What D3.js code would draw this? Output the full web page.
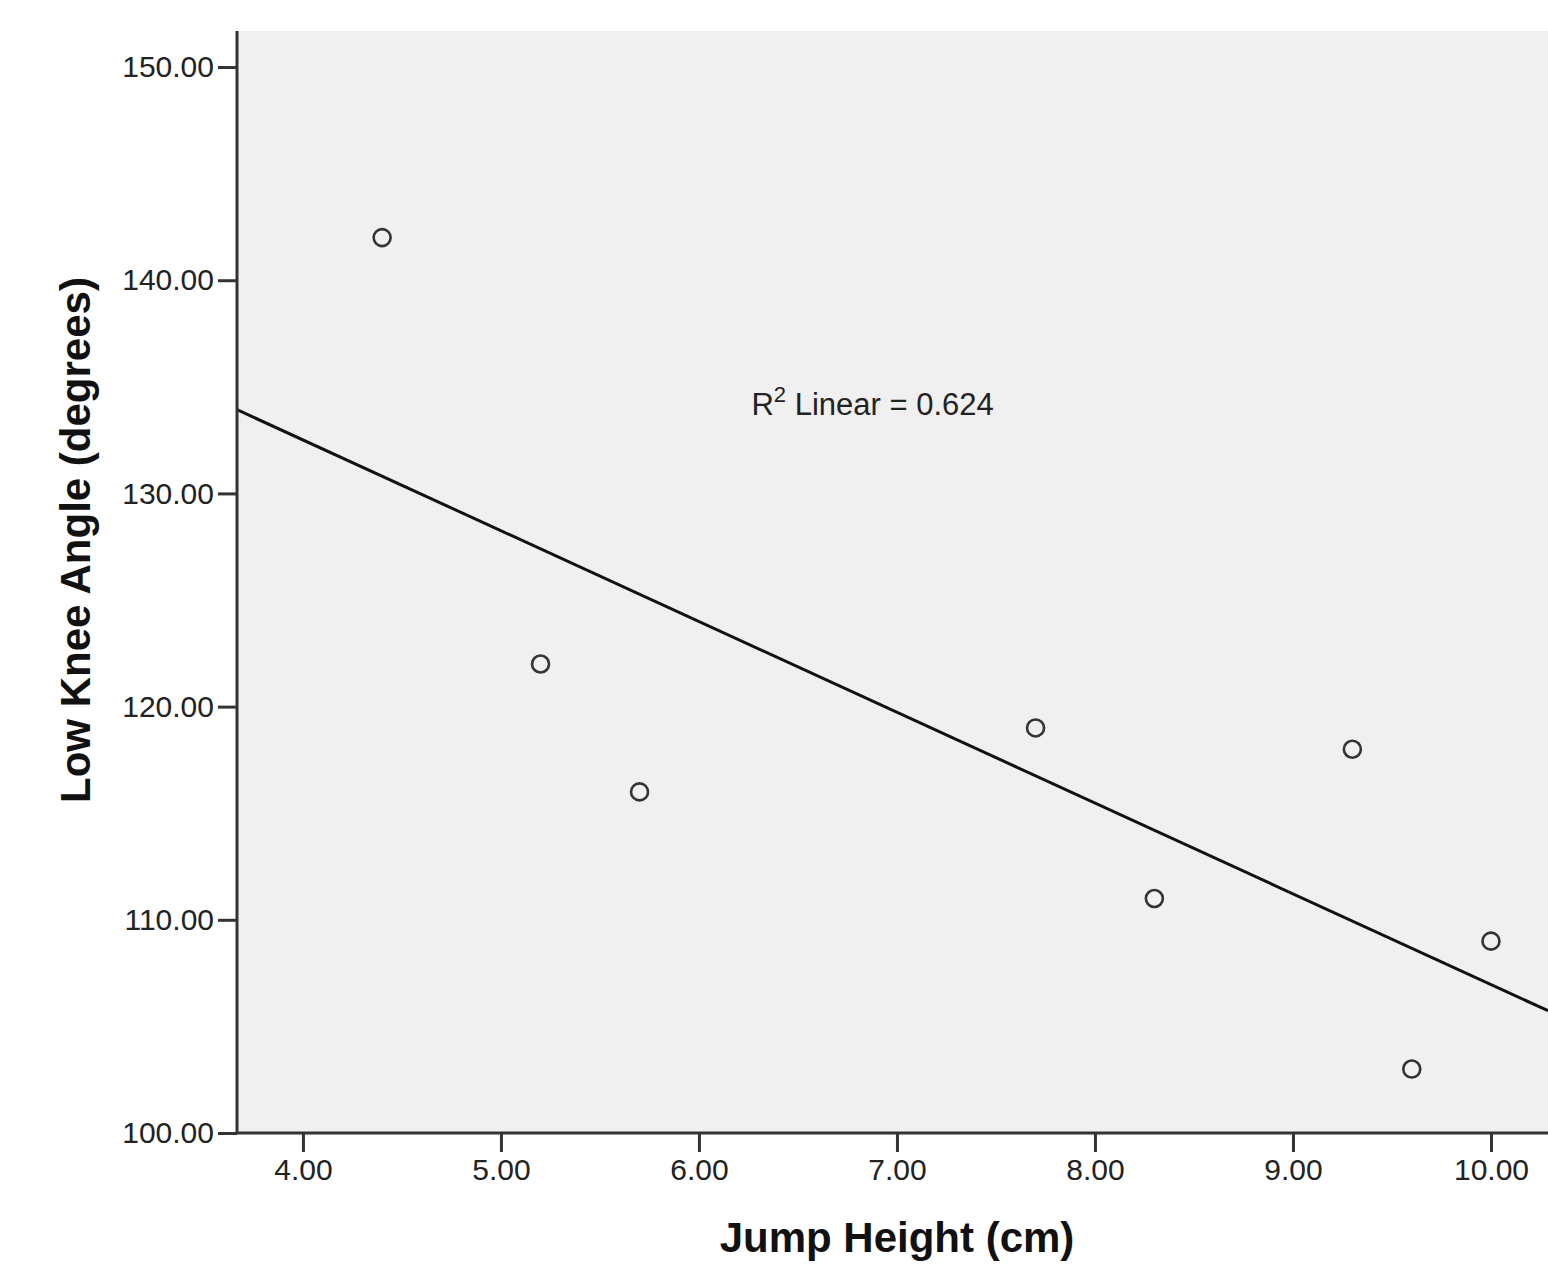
<!DOCTYPE html>
<html>
<head>
<meta charset="utf-8">
<script src="https://cdn.jsdelivr.net/npm/d3@7"></script>
<style>
  body { margin: 0; background: #fff; }
  svg { display: block; font-family: "Liberation Sans", Arial, sans-serif; }
</style>
</head>
<body>
<div id="chart"></div>
<script>
// data
var jumpHeight = [4.4, 5.2, 5.7, 7.7, 8.3, 9.3, 9.6, 10.0];
var kneeAngle  = [142, 122, 116, 119, 111, 118, 103, 109];
var xTicks = [4, 5, 6, 7, 8, 9, 10];
var yTicks = [100, 110, 120, 130, 140, 150];

var width = 1548,
    height = 1264,
    margin = {top: 31, right: 0, bottom: 131, left: 237};

var svg = d3.select("#chart")
    .append("svg")
    .attr("width", width)
    .attr("height", height);

var g = svg.append("g")
    .attr("transform", "translate(" + margin.left + "," + margin.top + ")");

var w = width - margin.left - margin.right,
    h = height - margin.top - margin.bottom;

var x = d3.scaleLinear().domain([3.667, 10.288]).range([0, w]);
var y = d3.scaleLinear().domain([100, 151.69]).range([h, 0]);

// plot background
g.append("rect")
    .attr("width", w)
    .attr("height", h)
    .attr("fill", "#f0f0f0");

// least squares fit
var mx = d3.mean(jumpHeight), my = d3.mean(kneeAngle);
var sxy = 0, sxx = 0, syy = 0;
jumpHeight.forEach(function(d, i) {
    sxy += (d - mx) * (kneeAngle[i] - my);
    sxx += (d - mx) * (d - mx);
    syy += (kneeAngle[i] - my) * (kneeAngle[i] - my);
});
var slope = sxy / sxx, icpt = my - slope * mx;
var r2 = (sxy * sxy) / (sxx * syy);

var xd = x.domain();
g.append("line")
    .attr("x1", x(xd[0])).attr("y1", y(icpt + slope * xd[0]))
    .attr("x2", x(xd[1])).attr("y2", y(icpt + slope * xd[1]))
    .attr("stroke", "#111")
    .attr("stroke-width", 3);

// points
g.selectAll("circle")
    .data(jumpHeight)
    .join("circle")
    .attr("cx", function(d) { return x(d); })
    .attr("cy", function(d, i) { return y(kneeAngle[i]); })
    .attr("r", 8.5)
    .attr("fill", "none")
    .attr("stroke", "#333")
    .attr("stroke-width", 2.6);

// R² label
var lbl = g.append("text")
    .attr("x", x(6.265))
    .attr("y", y(133.7))
    .attr("font-size", 31)
    .attr("fill", "#222");
lbl.append("tspan").text("R");
lbl.append("tspan").attr("dy", -13).attr("font-size", 22).text("2");
lbl.append("tspan").attr("dy", 13).text(" Linear = " + r2.toFixed(3));

// axes
var xAxis = g.append("g")
    .attr("transform", "translate(0," + h + ")")
    .call(d3.axisBottom(x).tickValues(xTicks).tickSize(19).tickPadding(7)
        .tickFormat(d3.format(".2f")));

var yAxis = g.append("g")
    .call(d3.axisLeft(y).tickValues(yTicks).tickSize(19).tickPadding(4)
        .tickFormat(d3.format(".2f")));

[xAxis, yAxis].forEach(function(a) {
    a.select(".domain").attr("stroke", "#333").attr("stroke-width", 3);
    a.selectAll(".tick line").attr("stroke", "#333").attr("stroke-width", 3);
    a.selectAll(".tick text")
        .attr("fill", "#222")
        .attr("font-size", 30)
        .attr("font-family", "'Liberation Sans', Arial, sans-serif");
});
yAxis.select(".domain").attr("d", "M0," + h + "V0");
xAxis.select(".domain").attr("d", "M0,0H" + w);

// axis titles
svg.append("text")
    .attr("x", 897)
    .attr("y", 1252)
    .attr("text-anchor", "middle")
    .attr("font-size", 42)
    .attr("font-weight", "bold")
    .attr("fill", "#111")
    .text("Jump Height (cm)");

svg.append("text")
    .attr("transform", "translate(90,540) rotate(-90)")
    .attr("text-anchor", "middle")
    .attr("font-size", 42)
    .attr("font-weight", "bold")
    .attr("fill", "#111")
    .text("Low Knee Angle (degrees)");
</script>
</body>
</html>
